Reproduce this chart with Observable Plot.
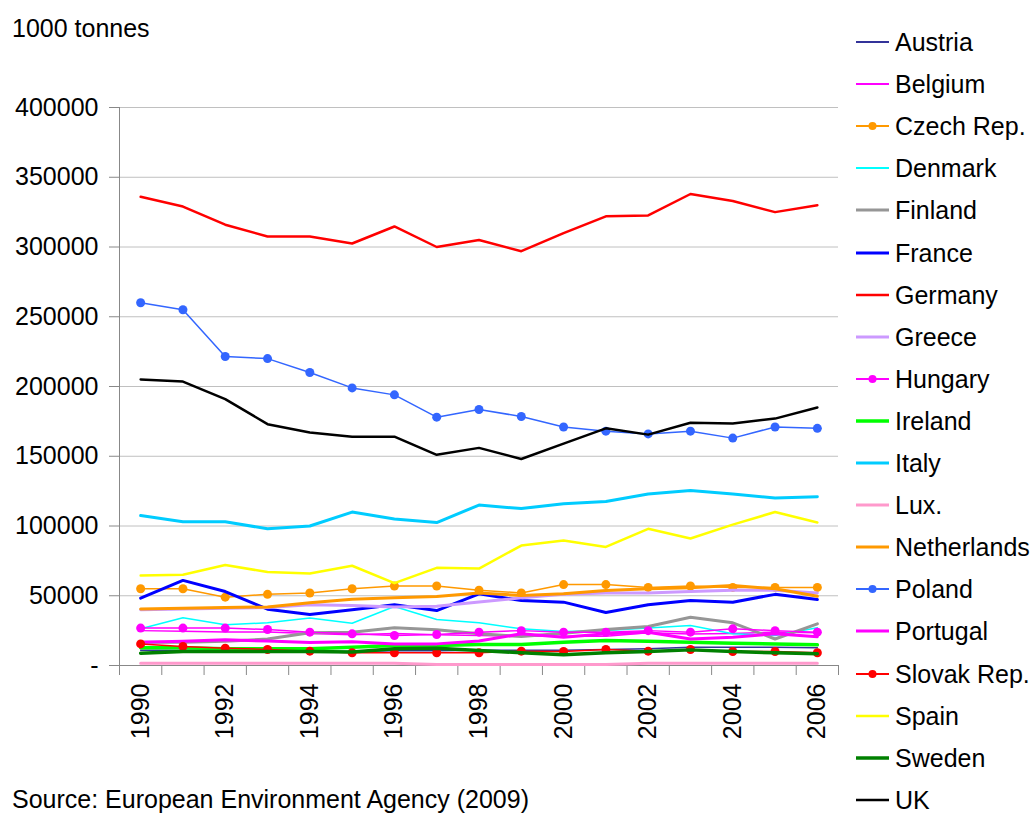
<!DOCTYPE html>
<html>
<head>
<meta charset="utf-8">
<script src="https://cdn.jsdelivr.net/npm/d3@7"></script>
<script src="https://cdn.jsdelivr.net/npm/@observablehq/plot@0.6"></script>
<style>
  html, body { margin: 0; padding: 0; background: #fff; }
  body { width: 1032px; height: 816px; position: relative; overflow: hidden; font-family: "Liberation Sans", Arial, sans-serif; color: #000; }
  #chart { position: absolute; left: 0; top: 0; }
  .txt { position: absolute; font-size: 25px; line-height: 30px; white-space: nowrap; }
  .leg { position: absolute; left: 855px; height: 30px; display: flex; align-items: center; }
  .leg span { font-size: 25px; line-height: 30px; margin-left: 5px; white-space: nowrap; }
</style>
</head>
<body>
<div class="txt" style="left:12px; top:13px;">1000 tonnes</div>
<div id="chart"></div>
<div id="legend"></div>
<div class="txt" style="left:12px; top:784px;">Source: European Environment Agency (2009)</div>
<script>
const years = [1990,1991,1992,1993,1994,1995,1996,1997,1998,1999,2000,2001,2002,2003,2004,2005,2006];
const yTicks = [0,50000,100000,150000,200000,250000,300000,350000,400000];
const labelYears = [1990,1992,1994,1996,1998,2000,2002,2004,2006];

const austria     = [11000,11000,10500,10000,10000,10000,10500,10500,11000,11000,11000,11500,12000,13000,13000,13000,12700];
const belgium     = [25000,24500,24000,24000,23000,22000,23000,22000,21500,21000,21000,21000,23500,22500,23000,24000,23500];
const czech       = [55000,55000,49000,51000,52000,55000,57000,57000,54000,52000,58000,58000,56000,57000,56000,56000,56000];
const denmark     = [26300,34200,29200,30600,34000,30300,42300,33000,30600,26300,24400,25000,26800,28700,22700,21500,27000];
const finland     = [16700,16700,17300,19000,23400,23900,27000,25600,22700,20800,23200,25800,28000,34600,30600,19000,29900];
const france      = [48300,61000,53000,40400,36600,40000,43500,39400,51400,46600,45400,38000,43500,46600,45400,51000,47300];
const germany     = [336000,329000,316000,307500,307500,302500,314700,300000,305000,297000,310000,322000,322600,338000,333000,325000,330000];
const greece      = [40000,40500,41000,41500,43500,43000,42000,42500,45500,48500,51000,52000,52000,53000,54000,54000,52000];
const hungary     = [26800,26800,26800,25800,23900,22700,21500,22200,23900,25000,23900,23900,25000,23900,26300,25000,23900];
const ireland     = [12700,12700,12000,12000,12000,13100,14300,14300,15000,15000,16700,17900,17300,16700,16000,15500,14800];
const italy       = [107500,103000,103000,98000,100000,110000,105000,102500,115000,112500,116000,117500,123000,125500,123000,120000,121000];
const lux         = [1600,1600,1600,1600,1600,1600,1600,700,700,700,700,700,1600,1600,1600,1600,1600];
const netherlands = [40500,41000,41500,42000,45000,47500,48500,49500,52000,50200,51400,53800,55000,55700,57300,55000,49700];
const poland      = [260000,255000,221500,220000,210000,199000,194000,178000,183500,178500,171000,168000,166000,168000,163000,171000,170000];
const portugal    = [16700,17300,18400,17500,16500,17000,15500,15500,17500,22700,20300,22700,23900,19000,20300,22700,20600];
const slovak      = [15500,13600,12400,11500,10300,9100,9100,9100,9100,10300,10000,11500,10300,11500,10000,10000,9100];
const spain       = [64500,65000,72000,67000,66000,71500,59000,70000,69500,86000,89600,85000,98000,91000,101000,110000,102500];
const sweden      = [8800,10000,10000,10000,10000,9600,12000,12300,10800,9100,7700,9100,10000,11200,10000,9100,8400];
const uk          = [205000,203500,191000,173000,167000,164000,164000,151000,156000,148000,159000,170000,165500,174000,173500,177000,185000];

const countries = ["Austria","Belgium","Czech Rep.","Denmark","Finland","France","Germany","Greece","Hungary","Ireland","Italy","Lux.","Netherlands","Poland","Portugal","Slovak Rep.","Spain","Sweden","UK"];
const seriesValues = [austria,belgium,czech,denmark,finland,france,germany,greece,hungary,ireland,italy,lux,netherlands,poland,portugal,slovak,spain,sweden,uk];

// styles (kept separate from data)
const styles = {
  "Austria":     {color:"#333399", w:1.5, dot:false},
  "Belgium":     {color:"#ff00ff", w:1.5, dot:false},
  "Czech Rep.":  {color:"#ff9900", w:1.5, dot:true},
  "Denmark":     {color:"#00ffff", w:1.5, dot:false},
  "Finland":     {color:"#969696", w:3,   dot:false},
  "France":      {color:"#0000ff", w:3,   dot:false},
  "Germany":     {color:"#ff0000", w:2.5, dot:false},
  "Greece":      {color:"#cc99ff", w:3,   dot:false},
  "Hungary":     {color:"#ff00ff", w:1.5, dot:true},
  "Ireland":     {color:"#00ff00", w:3.5, dot:false},
  "Italy":       {color:"#00ccff", w:3,   dot:false},
  "Lux.":        {color:"#ff99cc", w:3,   dot:false},
  "Netherlands": {color:"#ff9900", w:3,   dot:false},
  "Poland":      {color:"#3366ff", w:1.5, dot:true},
  "Portugal":    {color:"#ff00ff", w:3,   dot:false},
  "Slovak Rep.": {color:"#ff0000", w:1.5, dot:true},
  "Spain":       {color:"#ffff00", w:2.5, dot:false},
  "Sweden":      {color:"#008000", w:3.5, dot:false},
  "UK":          {color:"#000000", w:2.5, dot:false}
};

const rows = countries.flatMap((c, k) => years.map((y, i) => ({country: c, year: y, value: seriesValues[k][i]})));
const boundaries = [years[0] - 0.5, ...years.map(y => y + 0.5)];

const seriesMarks = countries.flatMap(c => {
  const s = styles[c];
  const data = rows.filter(r => r.country === c);
  const m = [Plot.line(data, {x: "year", y: "value", stroke: s.color, strokeWidth: s.w, curve: "linear"})];
  if (s.dot) m.push(Plot.dot(data, {x: "year", y: "value", r: 4.5, fill: s.color, stroke: "none"}));
  return m;
});

const chart = Plot.plot({
  width: 1032,
  height: 816,
  marginLeft: 119,
  marginRight: 194,
  marginTop: 107,
  marginBottom: 151,
  x: {domain: [boundaries[0], boundaries[boundaries.length - 1]]},
  y: {domain: [0, 400000]},
  style: {fontFamily: "'Liberation Sans', Arial, sans-serif", fontSize: "25px", color: "#000", background: "transparent", overflow: "visible"},
  marks: [
    Plot.gridY(yTicks.filter(d => d > 0), {stroke: "#c0c0c0", strokeOpacity: 1, strokeWidth: 1}),
    Plot.axisY(yTicks, {tickSize: 10, tickPadding: 11, stroke: "#888", strokeOpacity: 1, label: null, fontSize: 25, fill: "#000",
      tickFormat: d => d === 0 ? "-" : String(d)}),
    Plot.axisX(boundaries, {tickSize: 10, stroke: "#888", strokeOpacity: 1, label: null, tickFormat: () => ""}),
    Plot.text(labelYears, {x: d => d, frameAnchor: "bottom", dy: 18, rotate: -90, textAnchor: "end", lineAnchor: "middle",
      text: d => String(d), fontSize: 25, fill: "#000"}),
    Plot.ruleX([boundaries[0]], {stroke: "#888"}),
    Plot.ruleY([0], {stroke: "#888"}),
    ...seriesMarks
  ]
});
document.getElementById("chart").appendChild(chart);

// legend
const legend = document.getElementById("legend");
countries.forEach((c, i) => {
  const s = styles[c];
  const cy = 42 + i * 42.1;
  const div = document.createElement("div");
  div.className = "leg";
  div.style.top = (cy - 15) + "px";
  const lw = Math.max(2, s.w);
  div.innerHTML = `<svg width="35" height="30"><line x1="1" x2="34" y1="15" y2="15" stroke="${s.color}" stroke-width="${lw}"/>${s.dot ? `<circle cx="17.5" cy="15" r="4" fill="${s.color}"/>` : ""}</svg><span>${c}</span>`;
  legend.appendChild(div);
});
</script>
</body>
</html>
